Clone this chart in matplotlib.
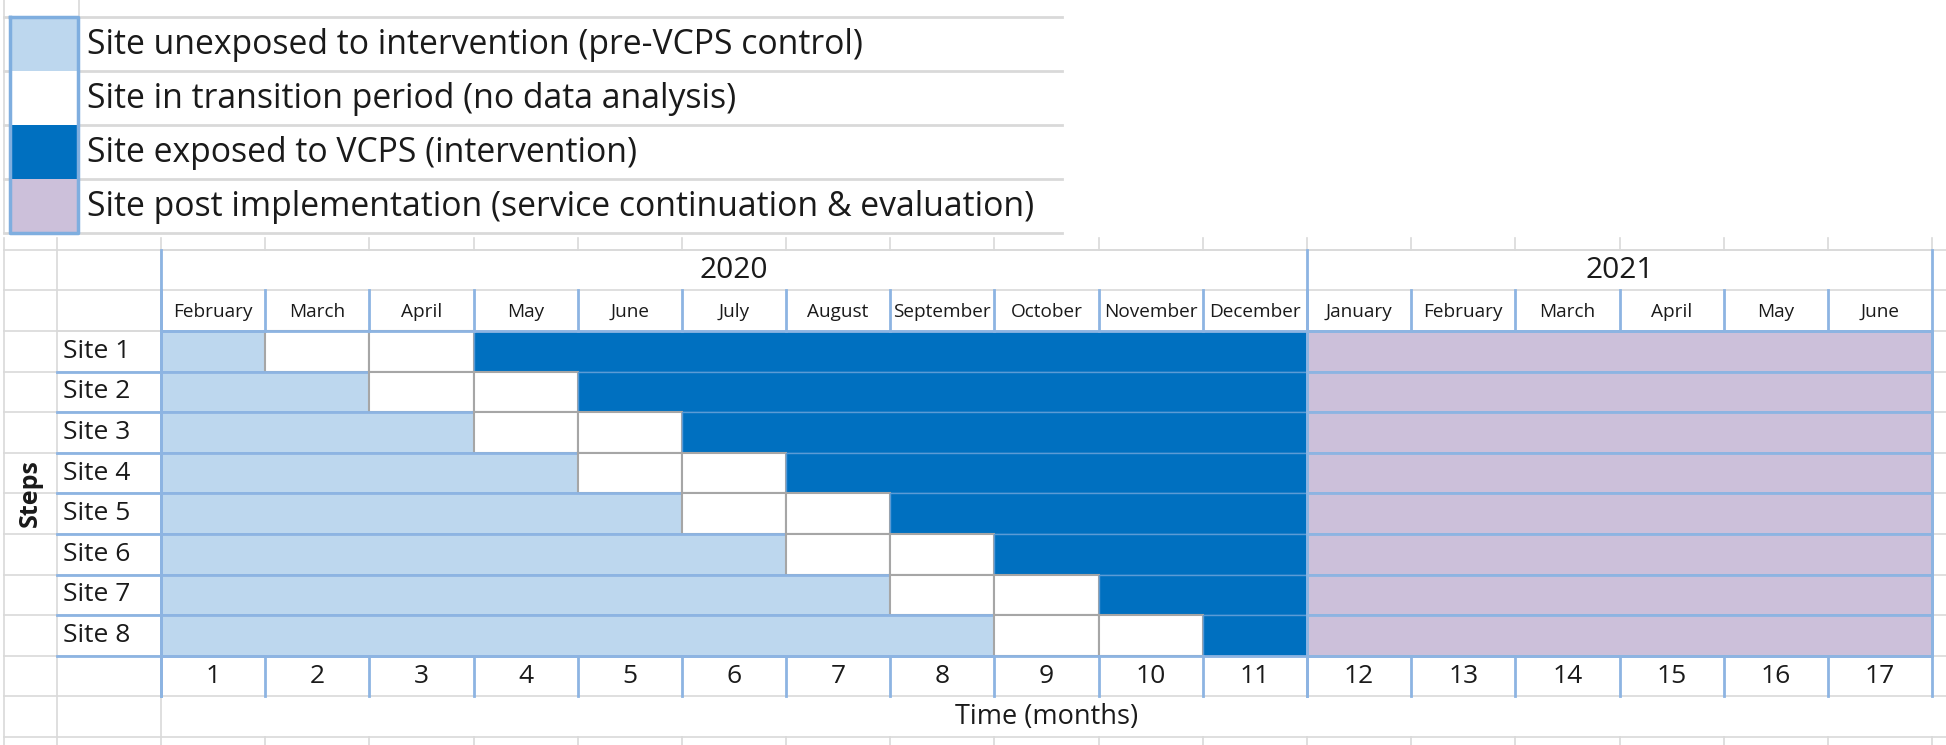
import matplotlib
matplotlib.use("Agg")
import matplotlib.pyplot as plt

plt.rcParams['font.family'] = ['Open Sans', 'DejaVu Sans']

# ---------------- data ----------------
sites = ["Site 1", "Site 2", "Site 3", "Site 4", "Site 5", "Site 6", "Site 7", "Site 8"]
control_months = [1, 2, 3, 4, 5, 6, 7, 8]          # months unexposed (pre-VCPS control)
transition_months = [2, 2, 2, 2, 2, 2, 2, 2]       # transition period length
intervention_end = 11                              # last month of intervention
post_months = 6                                    # months 12-17 post implementation
month_names = ["February", "March", "April", "May", "June", "July", "August",
               "September", "October", "November", "December",
               "January", "February", "March", "April", "May", "June"]
month_numbers = list(range(1, 18))
years = ["2020", "2021"]
year_spans = [11, 6]
legend_labels = ["Site unexposed to intervention (pre-VCPS control)",
                 "Site in transition period (no data analysis)",
                 "Site exposed to VCPS (intervention)",
                 "Site post implementation (service continuation & evaluation)"]

# ---------------- style ----------------
C_CTRL = "#BDD7EE"
C_TRANS = "#FFFFFF"
C_INT = "#0070C0"
C_POST = "#CCC0DA"
legend_colors = [C_CTRL, C_TRANS, C_INT, C_POST]
EDGE_BLUE = "#8DB4E2"
EDGE_GRAY = "#A6A6A6"
GRID = "#D9D9D9"
TXT = "#1A1A1A"

W, H = 1946, 745
CW, RH = 104.18, 40.6      # column width / row height in pixels
X0, Y0 = 161, 331          # pixel origin of the data grid

def px2x(p):
    return (p - X0) / CW

def px2y(p):
    return (p - Y0) / RH

fig = plt.figure(figsize=(W / 100, H / 100), dpi=100)
ax = fig.add_axes([0, 0, 1, 1])
ax.set_xlim(px2x(0), px2x(W))
ax.set_ylim(px2y(H), px2y(0))
ax.axis("off")

n_cols = len(month_names)
n_sites = len(sites)

# ---------- spreadsheet gridlines ----------
for r in range(-2, n_sites + 3):
    ax.plot([px2x(4), px2x(W)], [r, r], color=GRID, lw=1.2, zorder=0)
for xl in [px2x(4), -1, 0]:
    ax.plot([xl, xl], [-2.3, px2y(H)], color=GRID, lw=1.2, zorder=0)
for k in range(1, n_cols + 1):
    ax.plot([k, k], [-2.3, -2], color=GRID, lw=1.2, zorder=0)
    ax.plot([k, k], [n_sites + 2, px2y(H)], color=GRID, lw=1.2, zorder=0)

# ---------- data bars ----------
for i, (c, t) in enumerate(zip(control_months, transition_months)):
    y = i + 0.5
    ax.barh(y, c, left=0, height=1, color=C_CTRL, edgecolor=EDGE_BLUE, lw=2, zorder=2)
    for j in range(t):
        ax.barh(y, 1, left=c + j, height=1, color=C_TRANS, edgecolor=EDGE_GRAY, lw=1.5, zorder=2)
    start = c + t
    ax.barh(y, intervention_end - start, left=start, height=1, color=C_INT,
            edgecolor="#5B9BD5", lw=1, zorder=2)
    ax.barh(y, post_months, left=intervention_end, height=1, color=C_POST,
            edgecolor=EDGE_BLUE, lw=2, zorder=2)

# site labels column
for i, s in enumerate(sites):
    ax.text(-1 + 6 / CW, i + 0.5, s, ha="left", va="center",
            fontsize=19, color=TXT, zorder=4)
    ax.plot([-1, 0], [i + 1, i + 1], color=EDGE_BLUE, lw=2, zorder=3)
ax.plot([-1, 0], [0, 0], color=GRID, lw=1.2, zorder=3)

# ---------- header: years ----------
ax.plot([0, n_cols], [-2, -2], color=GRID, lw=1.2, zorder=1)
start = 0
for yr, span in zip(years, year_spans):
    ax.text(start + span / 2, -1.5, yr, ha="center", va="center", fontsize=21.5, color=TXT, zorder=4)
    ax.plot([start, start], [-2, n_sites + 1], color=EDGE_BLUE, lw=2, zorder=3)
    start += span
ax.plot([start, start], [-2, n_sites + 1], color=EDGE_BLUE, lw=2, zorder=3)

# ---------- header: months ----------
for k, m in enumerate(month_names):
    ax.text(k + 0.5, -0.47, m, ha="center", va="center", fontsize=13.7, color=TXT, zorder=4)
    ax.plot([k, k], [-1, 0], color=EDGE_BLUE, lw=2, zorder=3)
ax.plot([0, n_cols], [0, 0], color=EDGE_BLUE, lw=2, zorder=3)

# ---------- month numbers row ----------
for k, num in enumerate(month_numbers):
    ax.text(k + 0.5, n_sites + 0.5, str(num), ha="center", va="center", fontsize=19,
            color=TXT, zorder=4)
    ax.plot([k, k], [n_sites, n_sites + 1], color=EDGE_BLUE, lw=2, zorder=3)
ax.plot([0, n_cols], [n_sites, n_sites], color=EDGE_BLUE, lw=2, zorder=3)

# axis titles
ax.text(n_cols / 2, n_sites + 1.5, "Time (months)", ha="center", va="center",
        fontsize=19.5, color=TXT, zorder=4)
ax.text(px2x(30), n_sites / 2, "Steps", ha="center", va="center", rotation=90,
        fontsize=18, fontweight="bold", color=TXT, zorder=4)

# ---------- legend ----------
leg_top, leg_h = 17, 54
sw_l, sw_r = px2x(10), px2x(78)
ax.plot([px2x(4), px2x(4)], [px2y(0), px2y(leg_top + 4 * leg_h)], color=GRID, lw=1.2, zorder=0)
ax.plot([px2x(79), px2x(79)], [px2y(0), px2y(leg_top)], color=GRID, lw=1.2, zorder=0)
for r in range(5):
    yy = px2y(leg_top + r * leg_h)
    ax.plot([px2x(4), px2x(1062)], [yy, yy], color=GRID, lw=2, zorder=0)
for r, (lab, col) in enumerate(zip(legend_labels, legend_colors)):
    y_top = px2y(leg_top + r * leg_h)
    y_bot = px2y(leg_top + (r + 1) * leg_h)
    ax.barh((y_top + y_bot) / 2, sw_r - sw_l, left=sw_l, height=y_bot - y_top,
            color=col, edgecolor="none", zorder=2)
    ax.text(px2x(87), (y_top + y_bot) / 2 + 0.03, lab, ha="left", va="center",
            fontsize=24.3, color=TXT, zorder=4)
y_a, y_b = px2y(leg_top), px2y(leg_top + 4 * leg_h)
ax.plot([sw_l, sw_r, sw_r, sw_l, sw_l], [y_a, y_a, y_b, y_b, y_a], color="#7FAEDF", lw=2.5, zorder=3)

fig.savefig("out.png", dpi=100)
